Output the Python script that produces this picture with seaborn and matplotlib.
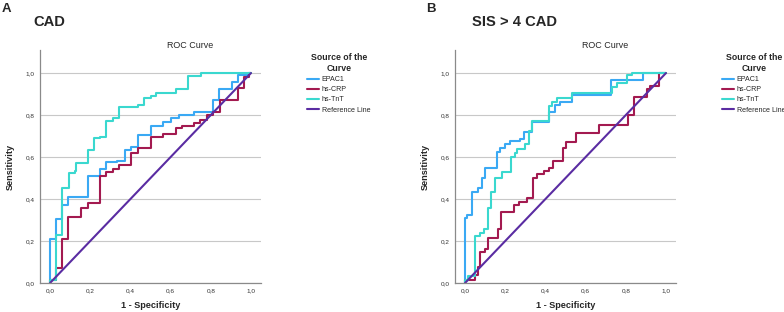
"""ROC curves for EPAC1, hs-CRP and hs-TnT: CAD and SIS > 4 CAD."""
import matplotlib
matplotlib.use("Agg")
import matplotlib.pyplot as plt
import seaborn as sns

# ---- data: each curve is a list of jump positions (1 - specificity) and
# the sensitivity reached after the jump; the last point closes at (1, 1).
CURVES = ["EPAC1", "hs-CRP", "hs-TnT"]

cad_epac1_fpr = [0, 0, 0.03, 0.058, 0.09, 0.187, 0.25, 0.28, 0.333, 0.375, 0.405,
                 0.437, 0.5, 0.562, 0.6, 0.642, 0.717, 0.812, 0.842, 0.908, 0.937,
                 0.983, 1.0]
cad_epac1_tpr = [0, 0.208, 0.305, 0.371, 0.411, 0.511, 0.543, 0.575, 0.583, 0.633,
                 0.646, 0.705, 0.748, 0.768, 0.784, 0.8, 0.813, 0.871, 0.922, 0.959,
                 0.99, 1.0, 1.0]
cad_crp_fpr = [0, 0, 0.03, 0.058, 0.09, 0.155, 0.187, 0.25, 0.28, 0.312, 0.342,
               0.405, 0.437, 0.5, 0.562, 0.625, 0.658, 0.717, 0.747, 0.78, 0.812,
               0.845, 0.937, 0.967, 0.992, 1.0]
cad_crp_tpr = [0, 0.012, 0.07, 0.208, 0.316, 0.359, 0.382, 0.511, 0.527, 0.543,
               0.562, 0.617, 0.641, 0.697, 0.712, 0.738, 0.75, 0.762, 0.778, 0.8,
               0.815, 0.871, 0.93, 0.98, 1.0, 1.0]
cad_tnt_fpr = [0, 0, 0.03, 0.058, 0.092, 0.125, 0.13, 0.187, 0.217, 0.25, 0.28,
               0.312, 0.342, 0.437, 0.467, 0.5, 0.528, 0.625, 0.687, 0.75, 1.0]
cad_tnt_tpr = [0, 0.016, 0.229, 0.454, 0.522, 0.533, 0.573, 0.633, 0.689, 0.697,
               0.773, 0.784, 0.837, 0.848, 0.879, 0.891, 0.903, 0.922, 0.986, 1.0,
               1.0]

sis_epac1_fpr = [0, 0, 0.01, 0.037, 0.062, 0.083, 0.1, 0.158, 0.175, 0.2, 0.225,
                 0.275, 0.292, 0.333, 0.42, 0.45, 0.475, 0.533, 0.725, 0.888, 1.0]
sis_epac1_tpr = [0, 0.308, 0.324, 0.435, 0.451, 0.5, 0.549, 0.625, 0.644, 0.66,
                 0.677, 0.688, 0.72, 0.768, 0.816, 0.847, 0.864, 0.895, 0.967, 1.0,
                 1.0]
sis_crp_fpr = [0, 0, 0.05, 0.062, 0.075, 0.1, 0.112, 0.162, 0.178, 0.242, 0.267,
               0.308, 0.338, 0.358, 0.392, 0.417, 0.438, 0.488, 0.5, 0.55, 0.667,
               0.812, 0.842, 0.905, 0.92, 0.967, 1.0]
sis_crp_tpr = [0, 0.012, 0.04, 0.075, 0.149, 0.161, 0.213, 0.257, 0.34, 0.371,
               0.384, 0.403, 0.498, 0.518, 0.534, 0.55, 0.58, 0.641, 0.672, 0.713,
               0.755, 0.8, 0.887, 0.922, 0.94, 1.0, 1.0]
sis_tnt_fpr = [0, 0, 0.013, 0.05, 0.075, 0.092, 0.112, 0.128, 0.15, 0.183, 0.228,
               0.25, 0.258, 0.3, 0.317, 0.333, 0.42, 0.433, 0.458, 0.533, 0.733,
               0.758, 0.808, 0.833, 1.0]
sis_tnt_tpr = [0, 0.012, 0.035, 0.226, 0.238, 0.259, 0.356, 0.435, 0.498, 0.53,
               0.601, 0.617, 0.64, 0.66, 0.725, 0.77, 0.843, 0.864, 0.88, 0.903,
               0.934, 0.951, 0.99, 1.0, 1.0]

ref_x = [0, 1]
ref_y = [0, 1]

PANELS = [
    ("A", "CAD", [(cad_epac1_fpr, cad_epac1_tpr), (cad_crp_fpr, cad_crp_tpr),
                  (cad_tnt_fpr, cad_tnt_tpr)]),
    ("B", "SIS > 4 CAD", [(sis_epac1_fpr, sis_epac1_tpr), (sis_crp_fpr, sis_crp_tpr),
                          (sis_tnt_fpr, sis_tnt_tpr)]),
]
TICKS = [0, 0.2, 0.4, 0.6, 0.8, 1.0]
TICK_LABELS = ["0,0", "0,2", "0,4", "0,6", "0,8", "1,0"]

COLORS = {"EPAC1": "#3aa9f4", "hs-CRP": "#a31a50", "hs-TnT": "#3ad8cf",
          "Reference Line": "#5a2ca2"}

sns.set_style("white")
plt.rcParams["font.family"] = ["Liberation Sans", "DejaVu Sans"]

W, H = 784, 312
fig = plt.figure(figsize=(W / 100, H / 100), dpi=100)

for i, (letter, name, curves) in enumerate(PANELS):
    left = 40 if i == 0 else 455
    ax = fig.add_axes([left / W, 29 / H, 221 / W, 233 / H])
    for label, (fpr, tpr) in zip(CURVES, curves):
        sns.lineplot(x=fpr, y=tpr, sort=False, estimator=None, drawstyle="steps-post",
                     color=COLORS[label], lw=1.5, label=label, ax=ax)
    sns.lineplot(x=ref_x, y=ref_y, sort=False, estimator=None,
                 color=COLORS["Reference Line"], lw=1.5, label="Reference Line", ax=ax)

    ax.set_xlim(-0.05, 1.05)
    ax.set_ylim(0, 1.11)
    ax.set_xticks(TICKS, TICK_LABELS)
    ax.set_yticks(TICKS, TICK_LABELS)
    ax.tick_params(length=0, labelsize=4.6, colors="#333333", pad=4)
    ax.yaxis.grid(True, color="#c8c8c8", lw=0.8)
    ax.set_axisbelow(True)
    sns.despine(ax=ax)
    for s in ("left", "bottom"):
        ax.spines[s].set_color("#8a8a8a")
        ax.spines[s].set_linewidth(0.9)

    ax.set_xlabel("1 - Specificity", fontsize=6.6, fontweight="bold", labelpad=5)
    ax.set_ylabel("Sensitivity", fontsize=6.6, fontweight="bold", labelpad=8)
    ax.text(0.68, 1.02, "ROC Curve", transform=ax.transAxes, ha="center",
            va="center", fontsize=6.4)

    leg = ax.legend(loc="upper left", bbox_to_anchor=(1.21, 0.985), frameon=False,
                    fontsize=5.1, title="Source of the\nCurve", alignment="center",
                    title_fontproperties={"weight": "bold", "size": 6.3},
                    handlelength=1.7, handletextpad=0.3, labelspacing=0.45,
                    borderpad=0, borderaxespad=0)
    leg.get_title().set_multialignment("center")

    x0 = 2 if i == 0 else 426
    x1 = 33 if i == 0 else 472
    fig.text(x0 / W, 1 - 9 / H, letter, fontsize=9.5, fontweight="bold", va="center")
    fig.text(x1 / W, 1 - 22 / H, name, fontsize=10.6, fontweight="bold", va="center")

fig.savefig("out.png", dpi=100)
